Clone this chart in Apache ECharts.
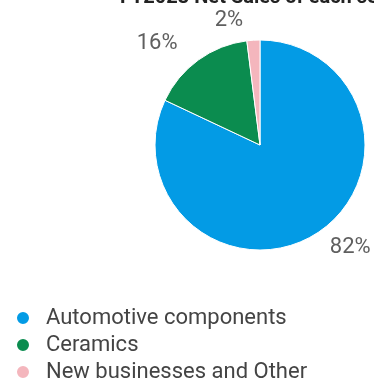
<!DOCTYPE html>
<html>
<head>
<meta charset="utf-8">
<script src="https://cdn.jsdelivr.net/npm/echarts@6/dist/echarts.min.js"></script>
<style>html,body{margin:0;padding:0;background:#fff;}#c{width:374px;height:384px;}</style>
</head>
<body>
<div id="c"></div>
<script>
var titleText = 'FY2023 Net Sales of each segment';
var categories = ['Automotive components', 'Ceramics', 'New businesses and Other'];
var values = [82, 16, 2];
var colors = ['#039BE5', '#0B8C4F', '#F4B6BD'];

var chart = echarts.init(document.getElementById('c'), null, {renderer: 'canvas'});
chart.setOption({
  animation: false,
  color: colors,
  title: {
    text: titleText,
    left: 120,
    top: -13,
    padding: 0,
    textStyle: {fontFamily: 'Roboto', fontWeight: 'bold', fontSize: 20, color: '#222', lineHeight: 21}
  },
  legend: {
    orient: 'vertical',
    left: 15,
    top: 307,
    padding: 0,
    icon: 'circle',
    itemWidth: 14,
    itemHeight: 14,
    itemGap: 5,
    textStyle: {fontFamily: 'Roboto', fontSize: 22, color: '#444', lineHeight: 22, padding: [0,0,0,11]},
    data: categories
  },
  series: [{
    type: 'pie',
    center: [260, 145],
    radius: 105,
    startAngle: 90,
    clockwise: true,
    avoidLabelOverlap: false,
    itemStyle: {borderColor: '#fff', borderWidth: 1},
    label: {
      show: true,
      position: 'outside',
      formatter: '{d}%',
      fontFamily: 'Roboto',
      fontSize: 22,
      color: '#5f5f5f'
    },
    labelLine: {show: false, length: 20, length2: 4},
    data: categories.map(function(n, i){
      var d = {name: n, value: values[i]};
      if (i === 0) d.labelLine = {show: false, length: 16, length2: 0};
      return d;
    })
  }]
});
</script>
</body>
</html>
